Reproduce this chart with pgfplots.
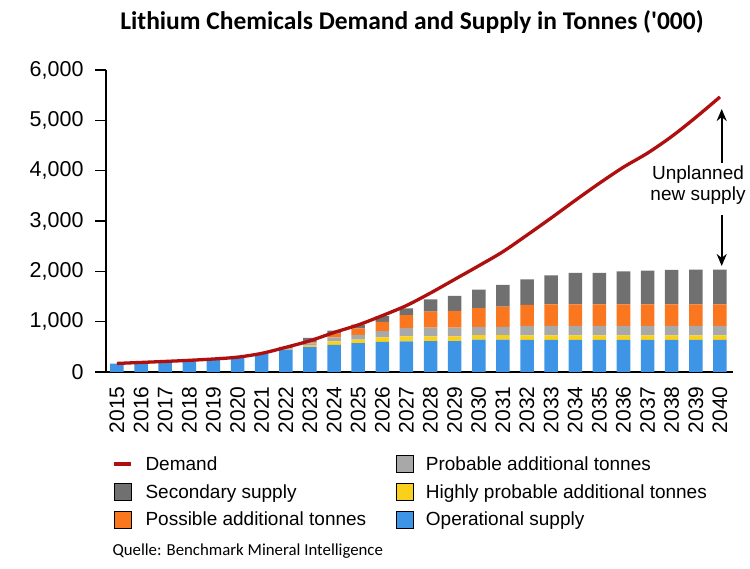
\documentclass[border=0pt]{standalone}
\usepackage{fontspec}
\setmainfont{Liberation Sans}
\newfontfamily\calibri{Carlito}[Ligatures=TeXOff]
\usepackage{pgfplots}
\pgfplotsset{compat=1.18}
\usepackage{pgfplotstable}
\usetikzlibrary{arrows.meta}

\definecolor{opblue}{HTML}{3E95E5}
\definecolor{hpyellow}{HTML}{F9D01C}
\definecolor{prgray}{HTML}{A8A8A8}
\definecolor{poorange}{HTML}{FA7720}
\definecolor{segray}{HTML}{707070}
\definecolor{demred}{HTML}{B00F0F}

\pgfplotstableread{
year op  hp pr  po  se  dem
2015 165 0  0   0   0   170
2016 185 0  0   0   0   190
2017 200 0  0   0   0   210
2018 220 0  0   0   0   232
2019 240 0  0   0   0   258
2020 295 0  0   0   0   295
2021 375 0  0   0   0   370
2022 445 10 15  5   25  490
2023 495 30 45  20  90  620
2024 540 70 80  70  60  785
2025 572 73 92  132 72  935
2026 600 90 120 185 115 1120
2027 608 98 164 261 131 1320
2028 615 91 177 314 248 1570
2029 615 91 177 333 295 1840
2030 641 91 164 373 366 2110
2031 641 91 164 405 432 2390
2032 636 93 185 418 510 2720
2033 636 93 185 431 577 3060
2034 636 93 185 431 625 3410
2035 636 93 185 431 625 3750
2036 636 93 185 431 655 4070
2037 636 93 185 431 670 4350
2038 636 93 185 431 685 4680
2039 636 93 185 431 690 5060
2040 636 93 185 431 690 5465
}\supply

\pgfplotsset{
  base/.style={scale only axis, width=627bp, height=302bp,
    xmin=2014.545, xmax=2040.54, ymin=0, ymax=6000,
    at={(106bp,197bp)}, anchor=south west},
  sqleg/.style={legend image code/.code={\fill[##1] (0bp,-7bp) rectangle (17bp,10bp);}},
  lnleg/.style={legend image code/.code={\draw[##1] (0bp,1.5bp) -- (17bp,1.5bp);}}
}

\begin{document}
\begin{tikzpicture}
\path[use as bounding box] (0,0) rectangle (750bp,569bp);

\begin{axis}[base,
  ybar stacked, bar width=0.56,
  axis lines*=left,
  axis line style={line width=1.3bp, black, -},
  x axis line style={line width=2bp},
  ytick={0,1000,...,6000},
  xtick={2015,...,2040},
  tick align=outside,
  major tick length=11bp,
  ytick style={line width=1.3bp, black},
  xtick style={draw=none},
  tick label style={font=\fontsize{21.5bp}{25bp}\selectfont},
  /pgf/number format/assume math mode=true,
  yticklabel style={/pgf/number format/1000 sep={,}, xshift=-8bp},
  xticklabel style={/pgf/number format/1000 sep={}, rotate=90, anchor=east, font=\fontsize{21bp}{25bp}\selectfont},
]
\addplot[fill=opblue, draw=none, forget plot] table[x=year,y=op]{\supply};
\addplot[fill=hpyellow, draw=none, forget plot] table[x=year,y=hp]{\supply};
\addplot[fill=prgray, draw=none, forget plot] table[x=year,y=pr]{\supply};
\addplot[fill=poorange, draw=none, forget plot] table[x=year,y=po]{\supply};
\addplot[fill=segray, draw=none, forget plot] table[x=year,y=se]{\supply};
\end{axis}

\begin{axis}[base, axis lines=none,
  legend columns=2,
  legend cell align=left,
  legend style={at={(0.0096,-0.275)}, anchor=north west, draw=none, fill=none,
    inner sep=0pt, column sep=0pt, row sep=8.5bp,
    font=\fontsize{19bp}{22bp}\selectfont,
    nodes={inner sep=0pt, text height=14bp, text depth=4bp},
    /tikz/every odd column/.append style={column sep=13bp}},
]
\addplot[demred, line width=3.3bp, smooth, forget plot] table[x=year,y=dem]{\supply};
\addlegendimage{lnleg, demred, line width=3.3bp}
\addlegendentry{\makebox[250bp][l]{Demand}}
\addlegendimage{sqleg, fill=prgray}
\addlegendentry{Probable additional tonnes}
\addlegendimage{sqleg, fill=segray}
\addlegendentry{\makebox[250bp][l]{Secondary supply}}
\addlegendimage{sqleg, fill=hpyellow}
\addlegendentry{Highly probable additional tonnes}
\addlegendimage{sqleg, fill=poorange}
\addlegendentry{\makebox[250bp][l]{Possible additional tonnes}}
\addlegendimage{sqleg, fill=opblue}
\addlegendentry{Operational supply}
\end{axis}

\node[font=\calibri\bfseries\fontsize{25.5bp}{29bp}\selectfont] at (412bp,547bp) {Lithium Chemicals Demand and Supply in Tonnes ('000)};
\node[font=\calibri\fontsize{16.8bp}{20bp}\selectfont, anchor=west] at (109bp,18bp) {Quelle: Benchmark Mineral Intelligence};
\node[font=\fontsize{19bp}{21.5bp}\selectfont, align=center] at (698bp,384bp) {Unplanned\\new supply};
\draw[line width=2bp, -{Stealth[length=12bp,width=10bp]}] (721.7bp,406bp) -- (721.7bp,460bp);
\draw[line width=2bp, -{Stealth[length=12bp,width=10bp]}] (721.7bp,354bp) -- (721.7bp,303bp);
\end{tikzpicture}
\end{document}
